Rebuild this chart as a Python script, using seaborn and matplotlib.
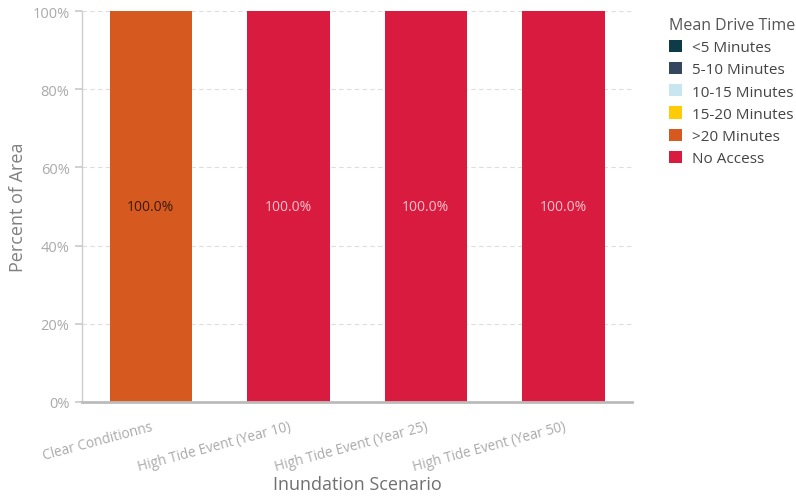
import matplotlib
matplotlib.use("Agg")
import matplotlib.pyplot as plt
from matplotlib.patches import Patch
import seaborn as sns
import pandas as pd
import numpy as np

scenarios = ["Clear Conditionns", "High Tide Event (Year 10)", "High Tide Event (Year 25)", "High Tide Event (Year 50)"]
categories = ["<5 Minutes", "5-10 Minutes", "10-15 Minutes", "15-20 Minutes", ">20 Minutes", "No Access"]
colors = ["#0d3b47", "#34475f", "#c8e6f0", "#ffcb05", "#d65a20", "#d81b3e"]
lt5 = [0, 0, 0, 0]
m5_10 = [0, 0, 0, 0]
m10_15 = [0, 0, 0, 0]
m15_20 = [0, 0, 0, 0]
gt20 = [100, 0, 0, 0]
no_access = [0, 100, 100, 100]
label_colors = ["#ffffff", "#ffffff", "#333333", "#333333", "#3a1a0a", "#f7c3cc"]

series = [lt5, m5_10, m10_15, m15_20, gt20, no_access]
rows = []
for cat, vals in zip(categories, series):
    for s, v in zip(scenarios, vals):
        rows.append({"Scenario": s, "Category": cat, "Value": v})
df = pd.DataFrame(rows)

sns.set_theme(style="white")
plt.rcParams["font.family"] = ["Open Sans", "DejaVu Sans"]

fig = plt.figure(figsize=(7.96, 5.02), dpi=100)
ax = fig.add_axes([82/796, 1 - 403/502, 550/796, 391/502])

sns.histplot(data=df, x="Scenario", hue="Category", weights="Value",
             hue_order=categories, palette=colors, multiple="stack",
             discrete=True, shrink=0.6, alpha=1, linewidth=0, ax=ax, legend=False)

# labels
for i, s in enumerate(scenarios):
    bottom = 0
    for cat, vals, lc in zip(categories, series, label_colors):
        v = vals[i]
        if v > 0:
            ax.text(i, bottom + v / 2, f"{v:.1f}%", ha="center", va="center",
                    fontsize=10, color=lc)
        bottom += v

ax.set_xlim(-0.5, 3.5)
ax.set_ylim(0, 100)
ax.set_yticks([0, 20, 40, 60, 80, 100])
ax.set_yticklabels([f"{t}%" for t in [0, 20, 40, 60, 80, 100]], fontsize=10.5, color="#aaaaaa")
ax.set_xticks(range(len(scenarios)))
ax.set_xticklabels(scenarios, rotation=15, ha="right", rotation_mode="anchor",
                   fontsize=9.8, color="#aaaaaa")
ax.tick_params(axis="x", length=0, pad=12)
ax.tick_params(axis="y", length=5, color="#cccccc", pad=4, left=True)
ax.yaxis.grid(True, linestyle=(0, (4, 3)), color="#dddddd", linewidth=0.8)
ax.set_axisbelow(True)
for sp in ["top", "right"]:
    ax.spines[sp].set_visible(False)
ax.spines["left"].set_color("#cccccc")
ax.spines["left"].set_linewidth(1.0)
ax.spines["bottom"].set_color("#bbbbbb")
ax.spines["bottom"].set_linewidth(2.0)
ax.set_xlabel("Inundation Scenario", fontsize=13, color="#707070", labelpad=1)
ax.set_ylabel("Percent of Area", fontsize=13, color="#808080", labelpad=4)

handles = [Patch(facecolor=c, edgecolor="none", label=l) for c, l in zip(colors, categories)]
leg = fig.legend(handles=handles, title="Mean Drive Time", loc="upper left",
                 bbox_to_anchor=(655/796, 1 - 4/502), frameon=False,
                 fontsize=11, title_fontsize=11.5, handlelength=0.85, handleheight=0.85,
                 handletextpad=0.7, labelspacing=0.45, alignment="left")
for t in leg.get_texts():
    t.set_color("#444444")
leg.get_title().set_color("#555555")

fig.savefig("out.png", dpi=100)
